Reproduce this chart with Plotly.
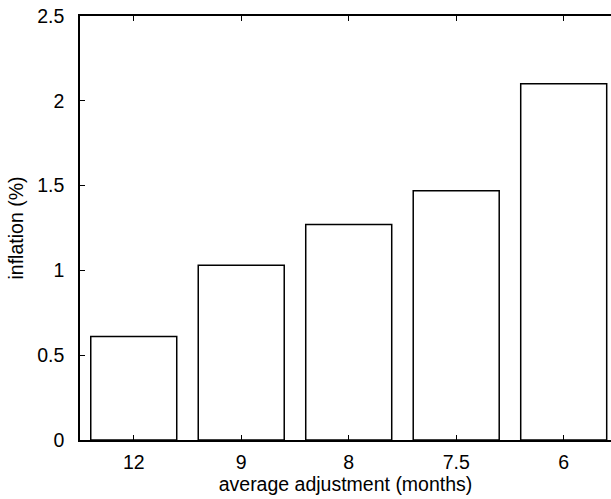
import plotly.graph_objects as go

categories = ["12", "9", "8", "7.5", "6"]
inflation = [0.61, 1.03, 1.27, 1.47, 2.10]

fig = go.Figure()
fig.add_trace(go.Bar(
    x=categories, y=inflation,
    marker=dict(color="white", line=dict(color="black", width=1.5)),
    width=0.8,
))

font = dict(family="Liberation Sans, Arial, Helvetica, sans-serif", size=19.5, color="black")

fig.update_layout(
    width=611, height=499,
    margin=dict(l=79.5, r=0, t=16, b=59),
    paper_bgcolor="white", plot_bgcolor="white",
    font=font,
    showlegend=False,
    xaxis=dict(
        range=[-0.5, 4.44],
        showline=True, linecolor="black", linewidth=1.5,
        mirror="ticks",
        ticks="inside", ticklen=5, tickcolor="black", tickwidth=1.2,
        showgrid=False, zeroline=False,
        title=dict(text="average adjustment (months)", standoff=0, font=font),
        ticklabelstandoff=4,
    ),
    yaxis=dict(
        range=[0, 2.5], dtick=0.5,
        showline=True, linecolor="black", linewidth=1.5,
        ticks="inside", ticklen=5, tickcolor="black", tickwidth=1.2,
        showgrid=False, zeroline=False,
        title=dict(text="inflation (%)", standoff=8, font=font),
        ticklabelstandoff=10,
    ),
)

fig.write_html("out.html")
